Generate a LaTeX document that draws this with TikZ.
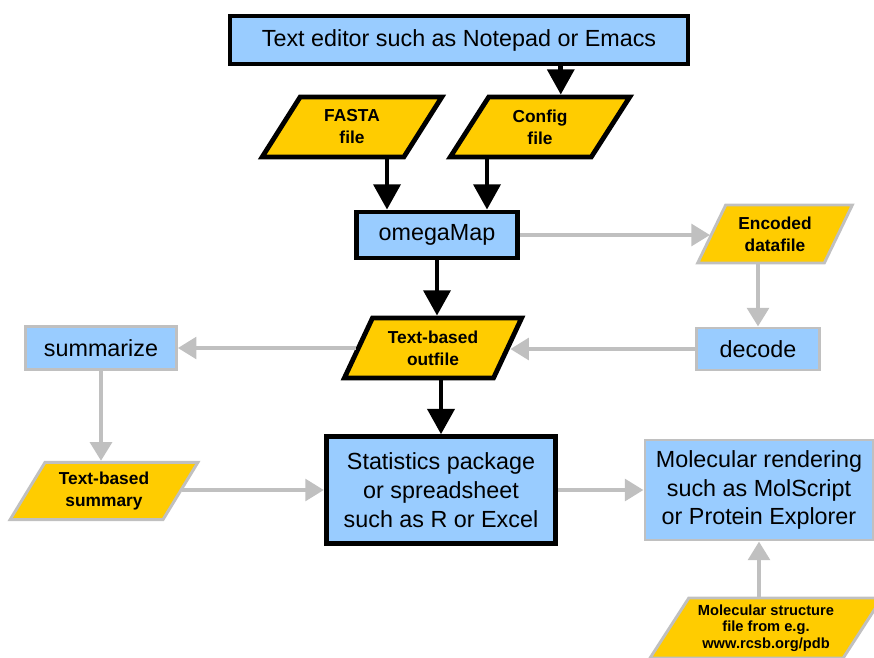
\documentclass[tikz,border=0pt]{standalone}
\usepackage{fontspec}
\setmainfont{Liberation Sans}
\usetikzlibrary{shapes.geometric,arrows.meta,positioning}
\definecolor{boxblue}{HTML}{99CCFF}
\definecolor{filegold}{HTML}{FFCC00}
\definecolor{linegray}{HTML}{C0C0C0}
\tikzset{
    prog/.style={rectangle,draw=black,line width=3.6pt,fill=boxblue,align=center,inner sep=2pt,
                 font=\fontsize{17.5}{21.5}\selectfont},
    tool/.style={prog,draw=linegray,line width=2.2pt},
    datafile/.style={trapezium,trapezium left angle=60,trapezium right angle=120,trapezium stretches=true,
                     draw=black,line width=3.6pt,fill=filegold,align=center,inner sep=1pt,
                     font=\bfseries\fontsize{13}{16.5}\selectfont},
    sidefile/.style={datafile,draw=linegray,line width=2.2pt},
    main/.style={line width=3.6pt,-{Triangle[width=20pt,length=19pt]}},
    side/.style={draw=linegray,line width=3.6pt,-{Triangle[width=16pt,length=14pt]}}
}

\begin{document}
\begin{tikzpicture}[x=0.75pt,y=-0.75pt]
    \clip (0,0) rectangle (874,657);
    % programs
    \node[prog,minimum width=343.5pt,minimum height=36pt] (editor) at (459,40) {Text editor such as Notepad or Emacs};
    \node[prog,minimum width=121pt,minimum height=34.5pt] (omega) at (437,235) {omegaMap};
    \node[prog,minimum width=172pt,minimum height=80pt] (stats) at (441,490) {Statistics package\\or spreadsheet\\such as R or Excel};
    \node[tool,minimum width=92pt,minimum height=31.5pt] (decode) at (758,349) {decode};
    \node[tool,minimum width=113pt,minimum height=32pt] (summ) at (101,348) {summarize};
    \node[tool,minimum width=171pt,minimum height=75pt] (molr) at (759,490) {Molecular rendering\\such as MolScript\\or Protein Explorer};
    % files
    \node[datafile,minimum width=135pt,minimum height=45pt] (fasta) at (352,127) {FASTA\\file};
    \node[datafile,minimum width=135pt,minimum height=45pt] (cfg) at (540,127) {Config\\file};
    \node[datafile,minimum width=133pt,minimum height=45pt] (outfile) at (433,348) {Text-based\\outfile};
    \node[sidefile,minimum width=116pt,minimum height=43.5pt] (enc) at (775,234) {Encoded\\datafile};
    \node[sidefile,minimum width=141pt,minimum height=43pt,trapezium left angle=56,trapezium right angle=124] (summary) at (104,491) {Text-based\\summary};
    \node[sidefile,minimum width=174pt,minimum height=45pt,trapezium left angle=55,trapezium right angle=125,
          font=\bfseries\fontsize{11}{12.5}\selectfont] (struct) at (766,628) {Molecular structure\\file from e.g.\\www.rcsb.org/pdb};
    % main path
    \coordinate (inL) at ([xshift=-37.5pt]omega.north);
    \coordinate (inR) at ([xshift=37.5pt]omega.north);
    \draw[main] (editor.south -| cfg.top side) -- (cfg.top side);
    \draw[main] (fasta.south -| inL) -- (inL);
    \draw[main] (cfg.south -| inR) -- (inR);
    \draw[main] (omega.south) -- (omega.south |- outfile.north);
    \draw[main] (stats.north |- outfile.south) -- (stats.north);
    % side paths
    \draw[side] (omega.east) -- (omega.east -| enc.left side);
    \draw[side] (enc.bottom side -| decode.north) -- (decode.north);
    \draw[side] (decode.west) -- (decode.west -| outfile.right side);
    \draw[side] (outfile.left side |- summ.east) -- (summ.east);
    \draw[side] (summ.south) -- (summ.south |- summary.top side);
    \draw[side] (summary.right side |- stats.west) -- (stats.west);
    \draw[side] (stats.east) -- (molr.west);
    \draw[side] (struct.top side -| molr.south) -- (molr.south);
\end{tikzpicture}
\end{document}
